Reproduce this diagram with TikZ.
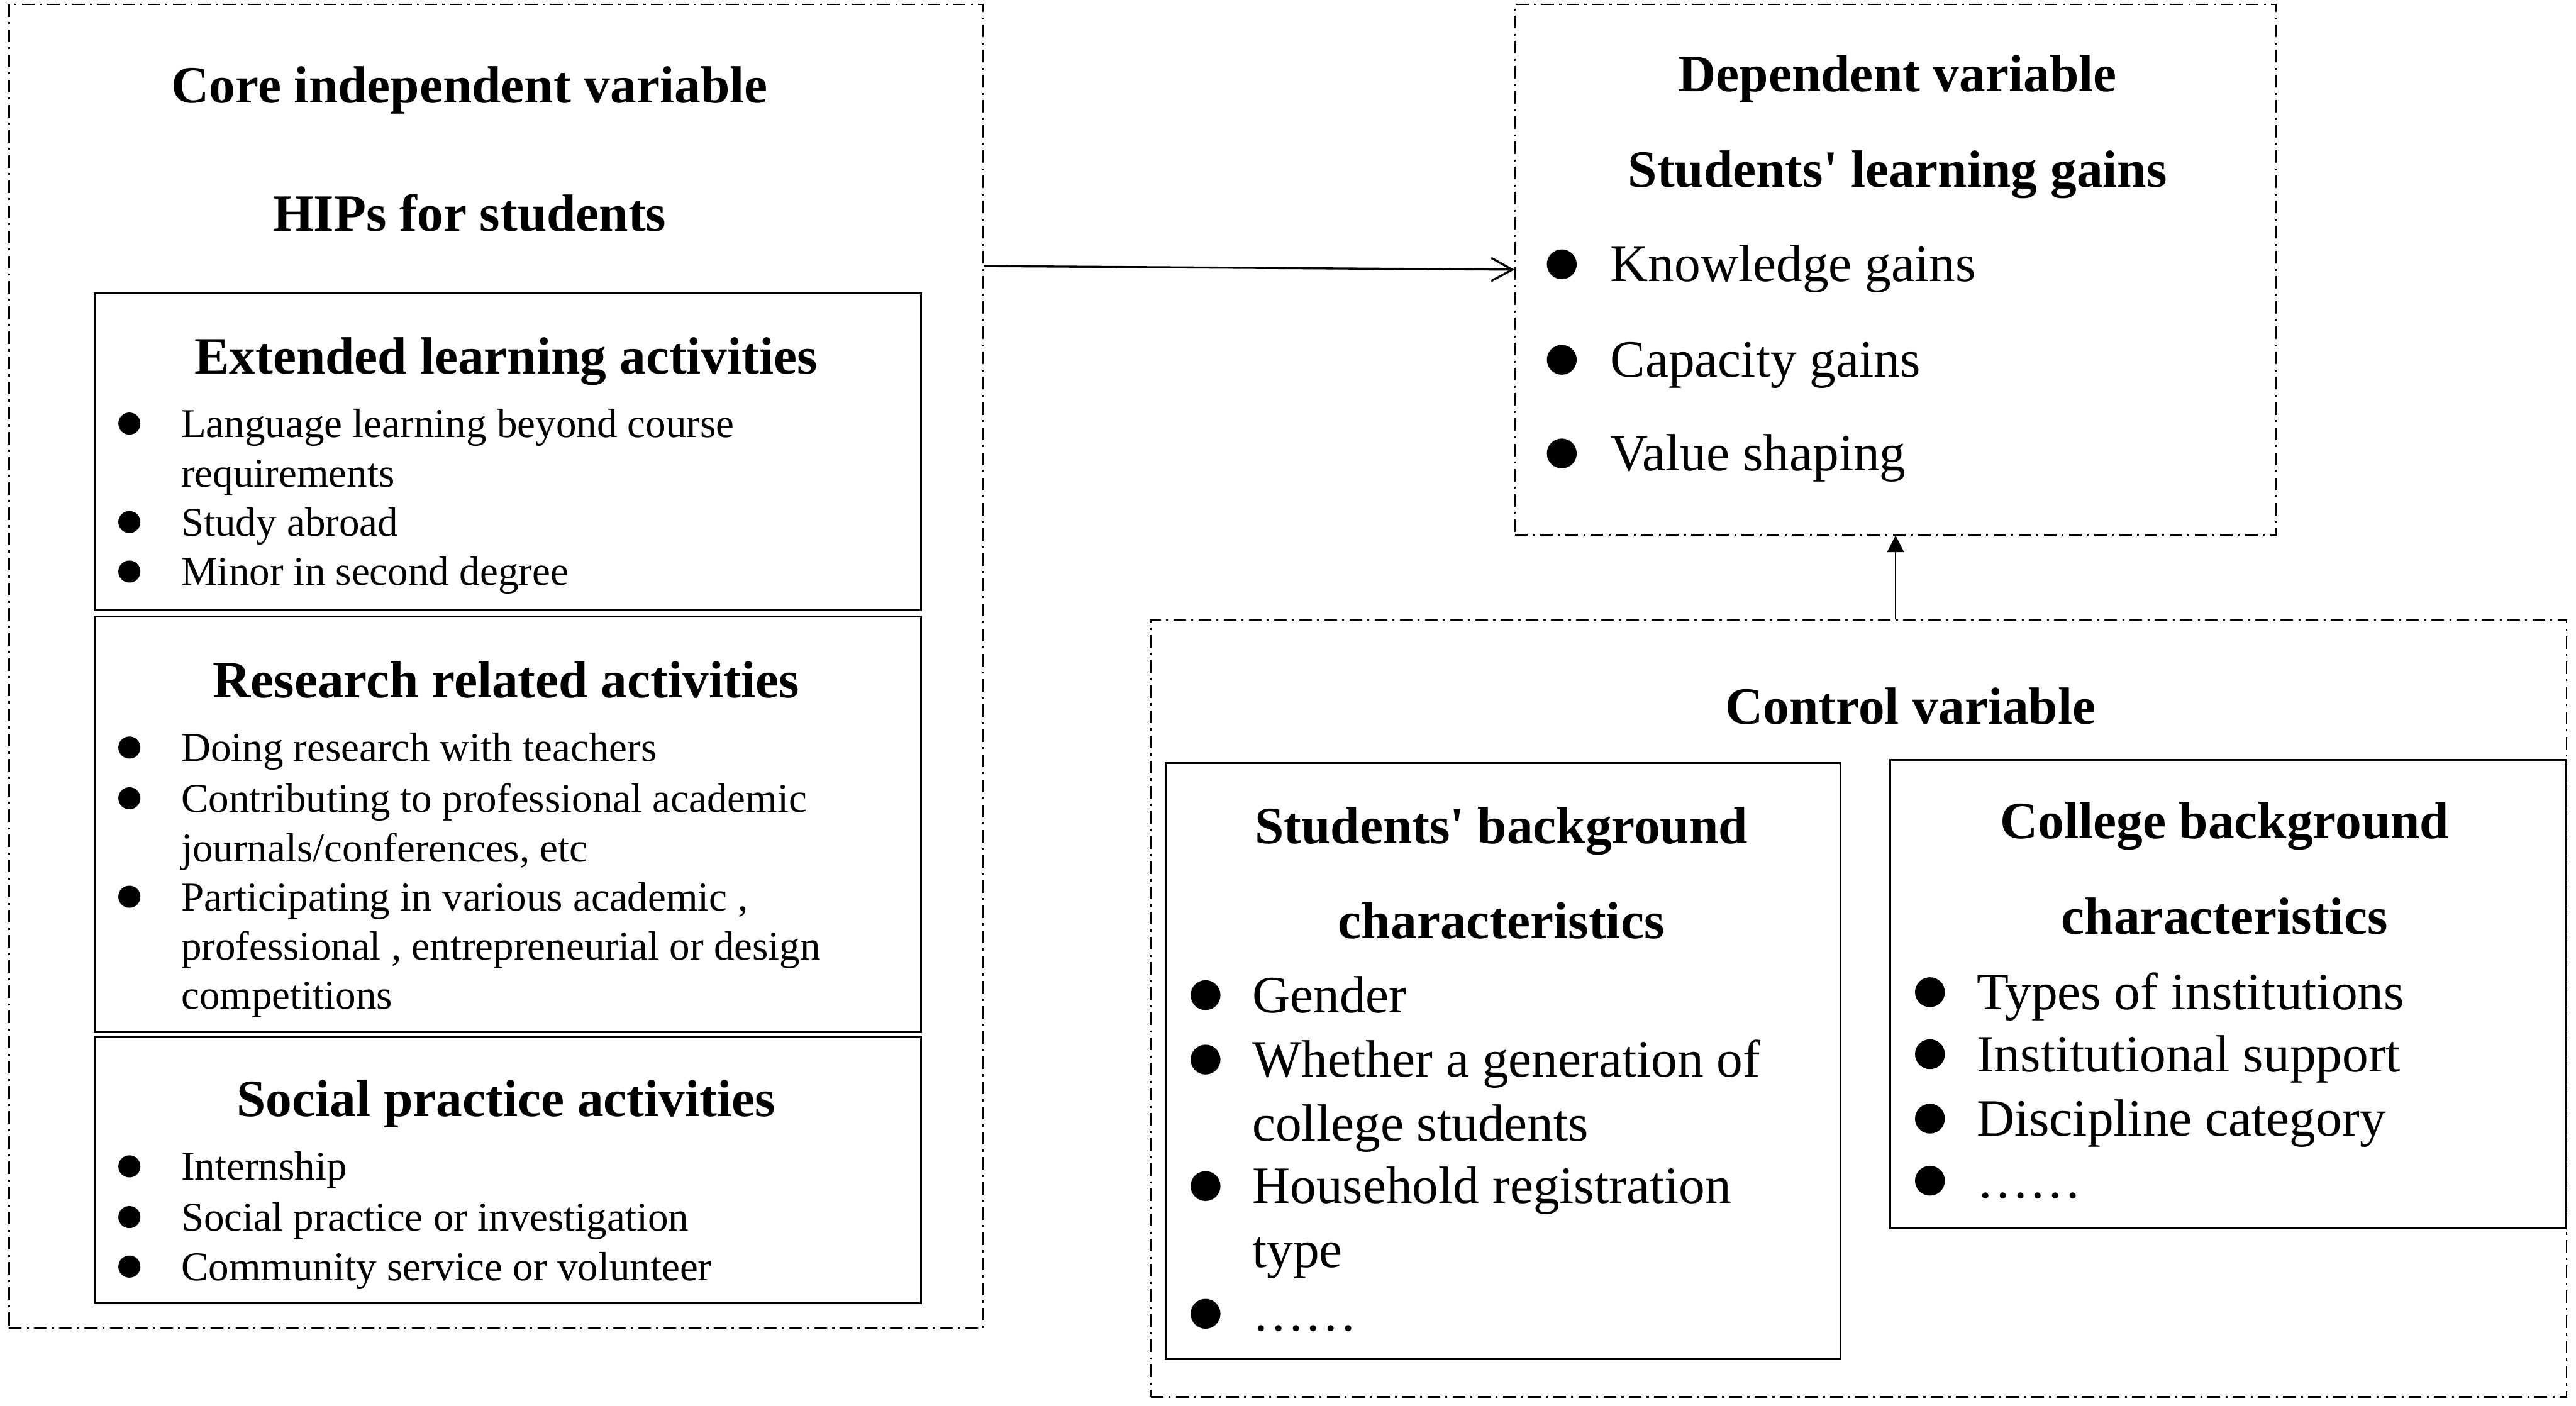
\documentclass[tikz,border=0pt]{standalone}
\usepackage{fontspec}
\setmainfont{Liberation Serif}
\usetikzlibrary{arrows.meta, positioning}

\begin{document}
\begin{tikzpicture}[
  outer/.style={draw,line width=0.7pt,dash pattern=on 6pt off 2.5pt on 1pt off 2.5pt,
                anchor=north west,inner sep=0},
  group/.style={draw,line width=0.9pt,anchor=north west,inner sep=0},
  head/.style={font=\fontsize{25}{30}\selectfont\bfseries,inner sep=0,
               text height=16.6pt,text depth=0pt},
  item/.style={anchor=west,inner sep=0,font=\fontsize{19.5}{23}\selectfont,
               text height=13.2pt,text depth=0pt},
  bigitem/.style={item,font=\fontsize{25}{30}\selectfont,text height=16.6pt},
  dot/.style={circle,fill,inner sep=0,minimum size=0.37cm},
  bigdot/.style={dot,minimum size=0.5cm},
  link/.style={-{Straight Barb[length=10pt,width=11pt]},line width=1pt}
]
  \useasboundingbox (0,0) rectangle (43.17,-23.56);

  % boxes
  \node[outer,minimum width=16.32cm,minimum height=22.19cm] (core) at (0.14,-0.06) {};
  \node[group,minimum width=13.85cm,minimum height=5.31cm] (extbox) at (1.57,-4.90) {};
  \node[group,minimum width=13.85cm,minimum height=6.97cm] (resbox) at (1.57,-10.32) {};
  \node[group,minimum width=13.85cm,minimum height=4.46cm] (socbox) at (1.57,-17.37) {};
  \node[outer,minimum width=12.75cm,minimum height=8.89cm] (dep) at (25.38,-0.06) {};
  \node[outer,minimum width=23.73cm,minimum height=13.02cm] (ctrl) at (19.27,-10.38) {};
  \node[group,minimum width=11.31cm,minimum height=10.00cm] (stubox) at (19.52,-12.77) {};
  \node[group,minimum width=11.32cm,minimum height=7.85cm] (colbox) at (31.66,-12.72) {};

  % core independent variable
  \node[head] (coret) at (7.87,-1.43) {Core independent variable};
  \node[head] (hips) at (7.87,-3.58) {HIPs for students};

  \node[head] (ext) at (8.48,-5.97) {Extended learning activities};
  \node[item] (e1) at (3.03,-7.10) {Language learning beyond course};
  \node[item] (e1b) at (3.03,-7.93) {requirements};
  \node[item] (e2) at (3.03,-8.75) {Study abroad};
  \node[item] (e3) at (3.03,-9.58) {Minor in second degree};
  \node[dot,left=0.67cm of e1] (e1d) {};
  \node[dot,left=0.67cm of e2] (e2d) {};
  \node[dot,left=0.67cm of e3] (e3d) {};

  \node[head] (res) at (8.48,-11.40) {Research related activities};
  \node[item] (r1) at (3.03,-12.53) {Doing research with teachers};
  \node[item] (r2) at (3.03,-13.38) {Contributing to professional academic};
  \node[item] (r2b) at (3.03,-14.21) {journals/conferences, etc};
  \node[item] (r3) at (3.03,-15.03) {Participating in various academic ,};
  \node[item] (r3b) at (3.03,-15.86) {professional , entrepreneurial or design};
  \node[item] (r3c) at (3.03,-16.68) {competitions};
  \node[dot,left=0.67cm of r1] (r1d) {};
  \node[dot,left=0.67cm of r2] (r2d) {};
  \node[dot,left=0.67cm of r3] (r3d) {};

  \node[head] (soc) at (8.48,-18.42) {Social practice activities};
  \node[item] (s1) at (3.03,-19.55) {Internship};
  \node[item] (s2) at (3.03,-20.40) {Social practice or investigation};
  \node[item] (s3) at (3.03,-21.23) {Community service or volunteer};
  \node[dot,left=0.67cm of s1] (s1d) {};
  \node[dot,left=0.67cm of s2] (s2d) {};
  \node[dot,left=0.67cm of s3] (s3d) {};

  % dependent variable
  \node[head] (dept) at (31.80,-1.24) {Dependent variable};
  \node[head] (gains) at (31.80,-2.84) {Students\textquotesingle{} learning gains};
  \node[bigitem] (g1) at (26.98,-4.43) {Knowledge gains};
  \node[bigitem] (g2) at (26.98,-6.03) {Capacity gains};
  \node[bigitem] (g3) at (26.98,-7.60) {Value shaping};
  \node[bigdot,left=0.55cm of g1] (g1d) {};
  \node[bigdot,left=0.55cm of g2] (g2d) {};
  \node[bigdot,left=0.55cm of g3] (g3d) {};

  % control variable
  \node[head] (ctrlt) at (32.02,-11.84) {Control variable};

  \node[head] (stu) at (25.16,-13.85) {Students\textquotesingle{} background};
  \node[head] (stub) at (25.16,-15.44) {characteristics};
  \node[bigitem] (b1) at (20.98,-16.68) {Gender};
  \node[bigitem] (b2) at (20.98,-17.76) {Whether a generation of};
  \node[bigitem] (b2b) at (20.98,-18.83) {college students};
  \node[bigitem] (b3) at (20.98,-19.88) {Household registration};
  \node[bigitem] (b3b) at (20.98,-20.95) {type};
  \node[bigitem] (b4) at (20.98,-22.02) {……};
  \node[bigdot,left=0.52cm of b1] (b1d) {};
  \node[bigdot,left=0.52cm of b2] (b2d) {};
  \node[bigdot,left=0.52cm of b3] (b3d) {};
  \node[bigdot,left=0.52cm of b4] (b4d) {};

  \node[head] (col) at (37.28,-13.76) {College background};
  \node[head] (colb) at (37.28,-15.36) {characteristics};
  \node[bigitem] (c1) at (33.12,-16.63) {Types of institutions};
  \node[bigitem] (c2) at (33.12,-17.67) {Institutional support};
  \node[bigitem] (c3) at (33.12,-18.75) {Discipline category};
  \node[bigitem] (c4) at (33.12,-19.79) {……};
  \node[bigdot,left=0.52cm of c1] (c1d) {};
  \node[bigdot,left=0.52cm of c2] (c2d) {};
  \node[bigdot,left=0.52cm of c3] (c3d) {};
  \node[bigdot,left=0.52cm of c4] (c4d) {};

  % links
  \draw[link] ([yshift=-4.40cm]core.north east) -- ([yshift=-4.46cm]dep.north west);
  \draw[-{Triangle[length=8pt,width=8pt]},line width=0.6pt]
       (dep.south |- ctrl.north) -- (dep.south);
\end{tikzpicture}
\end{document}
